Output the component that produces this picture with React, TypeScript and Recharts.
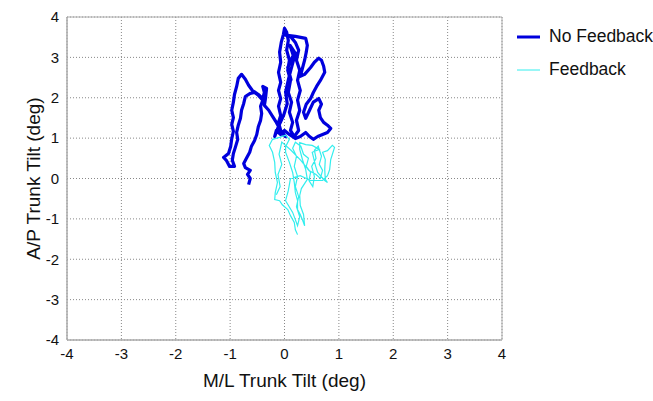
import React from "react";
import { ScatterChart, Scatter, XAxis, YAxis, CartesianGrid, ReferenceArea, Legend } from "recharts";

// trunk tilt traces, deg (M/L = x, A/P = y)
const noFeedbackML = [
  -0.66, -0.63, -0.68, -0.63, -0.72, -0.75, -0.7, -0.64, -0.61, -0.55, -0.51, -0.48, -0.44, -0.42,
  -0.44, -0.4, -0.48, -0.55, -0.63, -0.72, -0.75, -0.79, -0.81, -0.85, -0.88, -0.86, -0.9, -0.94,
  -0.96, -0.92, -1.01, -1.07, -1.12, -1.03, -0.99, -0.97, -0.94, -0.97, -0.94, -0.97, -0.94, -0.92,
  -0.88, -0.85, -0.79, -0.72, -0.66, -0.59, -0.48, -0.4, -0.37, -0.4, -0.33, -0.35, -0.37, -0.29,
  -0.22, -0.15, -0.09, -0.04, 0.02, -0.07, -0.11, -0.07, -0.11, -0.07, -0.11, -0.07, -0.11, -0.07,
  -0.09, -0.06, -0.02, 0.0, 0.04, 0.07, 0.04, 0.09, 0.06, 0.11, 0.07, 0.13, 0.09, 0.15,
  0.11, 0.18, 0.26, 0.22, 0.28, 0.24, 0.29, 0.24, 0.28, 0.22, 0.26, 0.2, 0.11, 0.02,
  0.2, 0.39, 0.42, 0.4, 0.37, 0.33, 0.29, 0.37, 0.48, 0.55, 0.63, 0.68, 0.72, 0.74,
  0.66, 0.59, 0.53, 0.48, 0.4, 0.35, 0.39, 0.46, 0.53, 0.63, 0.68, 0.63, 0.66, 0.72,
  0.79, 0.85, 0.79, 0.7, 0.61, 0.53, 0.46, 0.39, 0.29, 0.2, 0.09, 0.0, -0.07, -0.15,
  -0.18, -0.11, -0.02, 0.05, 0.02, 0.12, 0.06, 0.16, 0.1, 0.2, 0.14, 0.08, 0.03,
];
const noFeedbackAP = [
  -0.15, 0.0, 0.1, 0.2, 0.27, 0.37, 0.5, 0.65, 0.79, 0.94, 1.09, 1.29, 1.44, 1.61,
  1.79, 1.94, 2.06, 2.13, 2.11, 2.03, 1.86, 1.69, 1.49, 1.32, 1.14, 0.97, 0.79, 0.62,
  0.45, 0.3, 0.3, 0.45, 0.52, 0.62, 0.79, 0.99, 1.17, 1.34, 1.51, 1.69, 1.89, 2.08,
  2.28, 2.48, 2.58, 2.46, 2.31, 2.18, 2.08, 1.98, 2.13, 2.28, 2.23, 1.98, 1.81, 1.69,
  1.54, 1.39, 1.24, 1.12, 1.04, 1.19, 1.39, 1.56, 1.79, 1.98, 2.18, 2.38, 2.63, 2.88,
  3.13, 3.37, 3.57, 3.72, 3.62, 3.42, 3.18, 2.93, 2.68, 2.43, 2.13, 1.89, 1.64, 1.39,
  1.19, 1.04, 1.19, 1.44, 1.69, 1.94, 2.18, 2.43, 2.68, 2.93, 3.18, 3.37, 3.52, 3.55,
  3.52, 3.47, 3.3, 3.13, 2.93, 2.73, 2.53, 2.58, 2.75, 2.88, 2.98, 2.93, 2.78, 2.63,
  2.43, 2.28, 2.13, 1.98, 1.84, 1.64, 1.49, 1.69, 1.89, 1.98, 1.84, 1.69, 1.51, 1.39,
  1.32, 1.24, 1.14, 1.09, 1.04, 0.97, 1.04, 1.14, 1.04, 0.99, 1.09, 1.19, 1.09, 1.19,
  1.04, 1.29, 1.55, 1.85, 2.15, 2.45, 2.75, 3.05, 3.3, 3.1, 2.8, 2.5, 2.2,
];
const feedbackML = [
  0.24, 0.2, 0.18, 0.11, 0.06, -0.04, -0.09, -0.18, -0.17, -0.13, -0.17, -0.18, -0.22, -0.28,
  -0.22, -0.09, 0.02, 0.09, 0.02, 0.02, 0.09, 0.15, 0.18, 0.2, 0.24, 0.24, 0.29, 0.33,
  0.37, 0.35, 0.29, 0.28, 0.31, 0.42, 0.39, 0.33, 0.28, 0.28, 0.39, 0.51, 0.64, 0.51,
  0.57, 0.61, 0.66, 0.74, 0.79, 0.75, 0.74, 0.75, 0.7, 0.79, 0.88, 0.92, 0.85, 0.83,
  0.79, 0.7, 0.48, 0.29, 0.11, 0.07, 0.02, 0.15, 0.24, 0.28, 0.22, 0.26, 0.2, 0.24,
  0.18, 0.22, 0.15, 0.2, 0.3, 0.35, 0.44, 0.4, 0.48, 0.45, 0.52, 0.55, 0.5, 0.58,
  0.55, 0.62, 0.68, 0.64, 0.7, 0.66, 0.58, 0.45, 0.3, 0.12, -0.05, -0.1, -0.05, -0.12,
  -0.08, -0.15,
];
const feedbackAP = [
  -1.39, -1.27, -1.09, -0.92, -0.77, -0.65, -0.55, -0.52, -0.35, -0.1, 0.15, 0.4, 0.65, 0.82,
  0.97, 1.02, 1.07, 0.97, 0.79, 0.65, 0.4, 0.15, -0.1, -0.35, -0.55, -0.77, -0.89, -1.02,
  -1.17, -0.89, -0.67, -0.42, -0.25, -0.02, 0.22, 0.47, 0.72, 0.89, 0.84, 0.82, 0.72, 0.65,
  0.32, 0.15, 0.07, -0.05, -0.1, -0.02, 0.22, 0.47, 0.65, 0.69, 0.82, 0.77, 0.47, 0.22,
  0.07, -0.05, -0.05, 0.07, 0.0, -0.3, -0.55, -0.84, -1.17, -0.95, -0.7, -0.45, -0.2, 0.05,
  0.3, 0.55, 0.75, 0.9, 0.8, 0.6, 0.5, 0.3, 0.15, -0.05, -0.2, 0.05, 0.3, 0.5,
  0.7, 0.8, 0.55, 0.35, 0.2, 0.0, 0.1, 0.2, 0.45, 0.7, 0.9, 0.6, 0.35, 0.1,
  -0.2, -0.4,
];
const ticks = [-4, -3, -2, -1, 0, 1, 2, 3, 4];

const noFeedback = noFeedbackML.map((x, i) => ({ x, y: noFeedbackAP[i] }));
const feedback = feedbackML.map((x, i) => ({ x, y: feedbackAP[i] }));

const font = "'Liberation Sans', Arial, sans-serif";
const noDot = () => null;

const renderLegend = () => (
  <div style={{ fontFamily: font, fontSize: 17.5, color: "#111", lineHeight: "33px" }}>
    {[
      { name: "No Feedback", color: "#0000dd", width: 3 },
      { name: "Feedback", color: "#33eeee", width: 1 },
    ].map((e) => (
      <div key={e.name} style={{ display: "flex", alignItems: "center", whiteSpace: "nowrap" }}>
        <svg width={32} height={10}>
          <line x1={0} y1={5} x2={23} y2={5} stroke={e.color} strokeWidth={e.width} />
        </svg>
        <span>{e.name}</span>
      </div>
    ))}
  </div>
);

export default function App() {
  return (
    <div style={{ position: "absolute", left: 0, top: 0, width: 653, height: 401, background: "#fff", overflow: "hidden" }}>
      <ScatterChart width={653} height={401} margin={{ top: 17, right: 151, bottom: 0, left: 0 }}>
        <CartesianGrid stroke="#888" strokeDasharray="1 2" />
        <XAxis
          type="number"
          dataKey="x"
          domain={[-4, 4]}
          ticks={ticks}
          interval={0}
          height={61}
          axisLine={{ stroke: "#aaa" }}
          tickLine={false}
          tick={{ fill: "#111", fontSize: 15, fontFamily: font }}
          label={{ value: "M/L Trunk Tilt (deg)", position: "insideBottom", offset: 14, fill: "#111", fontSize: 19, fontFamily: font }}
        />
        <YAxis
          type="number"
          dataKey="y"
          domain={[-4, 4]}
          ticks={ticks}
          interval={0}
          width={67}
          axisLine={{ stroke: "#aaa" }}
          tickLine={false}
          tick={{ fill: "#111", fontSize: 15, fontFamily: font }}
          label={{ value: "A/P Trunk Tilt (deg)", angle: -90, position: "insideLeft", offset: 33, fill: "#111", fontSize: 19, fontFamily: font, style: { textAnchor: "middle" } }}
        />
        <ReferenceArea x1={-4} x2={4} y1={-4} y2={4} fill="none" stroke="#aaa" strokeWidth={1} />
        <Scatter
          name="No Feedback"
          data={noFeedback}
          line={{ stroke: "#0000dd", strokeWidth: 3.2, strokeLinejoin: "round" }}
          lineType="joint"
          shape={noDot}
          isAnimationActive={false}
        />
        <Scatter
          name="Feedback"
          data={feedback}
          line={{ stroke: "#33eeee", strokeWidth: 1.2 }}
          lineType="joint"
          shape={noDot}
          isAnimationActive={false}
        />
        <Legend
          layout="vertical"
          align="center"
          verticalAlign="middle"
          content={renderLegend}
          wrapperStyle={{ left: 517, top: 20, width: 140 }}
        />
      </ScatterChart>
    </div>
  );
}
